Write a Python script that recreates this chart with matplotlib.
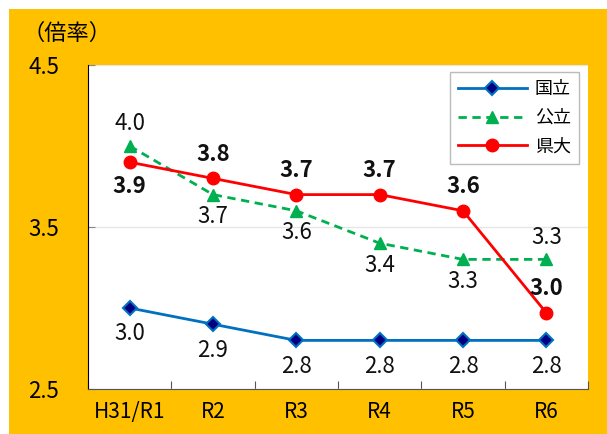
import matplotlib
matplotlib.use('Agg')
import matplotlib.pyplot as plt
from matplotlib.patches import Rectangle

plt.rcParams['font.family'] = ['Noto Sans CJK JP', 'DejaVu Sans']

years = ['H31/R1', 'R2', 'R3', 'R4', 'R5', 'R6']
kokuritsu = [3.0, 2.9, 2.8, 2.8, 2.8, 2.8]
kouritsu = [4.0, 3.7, 3.6, 3.4, 3.3, 3.3]
kendai = [3.9, 3.8, 3.7, 3.7, 3.6, 2.97]

# label above (+1) or below (-1) the point
kokuritsu_pos = [-1, -1, -1, -1, -1, -1]
kouritsu_pos = [1, -1, -1, -1, -1, 1]
kendai_pos = [-1, 1, 1, 1, 1, 1]

fig = plt.figure(figsize=(6.07, 4.34), dpi=100)
fig.patches.append(Rectangle((9/607, 0), 1, 1 - 9/434, transform=fig.transFigure,
                             facecolor='#FFC000', edgecolor='none', zorder=-10))
ax = fig.add_axes([88/607, 1 - 389/434, 500/607, 324/434])
ax.set_zorder(1)
ax.set_facecolor('white')

x = list(range(len(years)))
ax.plot(x, kokuritsu, color='#0070C0', lw=2, marker='D', ms=7,
        mfc='#000080', mec='#0070C0', mew=1.5, label='国立', zorder=3)
ax.plot(x, kouritsu, color='#00B050', lw=2, ls=(0, (3, 2)), marker='^', ms=9,
        mfc='#00B050', mec='#00B050', label='公立', zorder=3)
ax.plot(x, kendai, color='#FF0000', lw=2, marker='o', ms=9,
        mfc='#FF0000', mec='#FF0000', label='県大', zorder=4)

def put_labels(vals, pos, bold=False, dy=25):
    for i, (v, p) in enumerate(zip(vals, pos)):
        ax.annotate('%.1f' % v, (i, v), xytext=(0, p * dy), textcoords='offset pixels',
                    ha='center', va='center', fontsize=16,
                    fontweight='bold' if bold else 'normal', color='#111111', zorder=6)

put_labels(kokuritsu, kokuritsu_pos, dy=26)
put_labels(kouritsu, kouritsu_pos, dy=22)
put_labels(kendai, kendai_pos, bold=True, dy=24)

ax.set_xlim(-0.5, 5.5)
ax.set_ylim(2.5, 4.5)
ax.set_yticks([2.5, 3.5, 4.5])
ax.set_yticklabels(['2.5', '3.5', '4.5'], fontsize=16)
ax.tick_params(axis='y', direction='in', length=5, color='#888888', pad=43)
for t in ax.get_yticklabels():
    t.set_ha('left')
ax.yaxis.grid(True, color='#E6E6E6', lw=1)
ax.set_axisbelow(True)

ax.set_xticks([i + 0.5 for i in range(-1, 6)])
ax.set_xticklabels([])
ax.set_xticks(x, minor=True)
ax.set_xticklabels(years, minor=True, fontsize=15)
ax.tick_params(axis='x', which='major', direction='in', length=6, color='#555555')
ax.tick_params(axis='x', which='minor', length=0, pad=9)

for s in ['top', 'right']:
    ax.spines[s].set_visible(False)
ax.spines['left'].set_color('black')
ax.spines['bottom'].set_color('#555555')

fig.text(22/607, 1 - 33/434, '（倍率）', fontsize=16, ha='left', va='center')

leg = ax.legend(loc='upper right', bbox_to_anchor=(579/607, 1 - 72/434),
                bbox_transform=fig.transFigure, handlelength=3.8, handletextpad=0.45,
                fancybox=False, edgecolor='#BBBBBB', framealpha=1, borderpad=0.45,
                borderaxespad=0, labelspacing=0.6, prop={'size': 13})
leg.get_frame().set_linewidth(1)

fig.savefig('out.png', dpi=100)
